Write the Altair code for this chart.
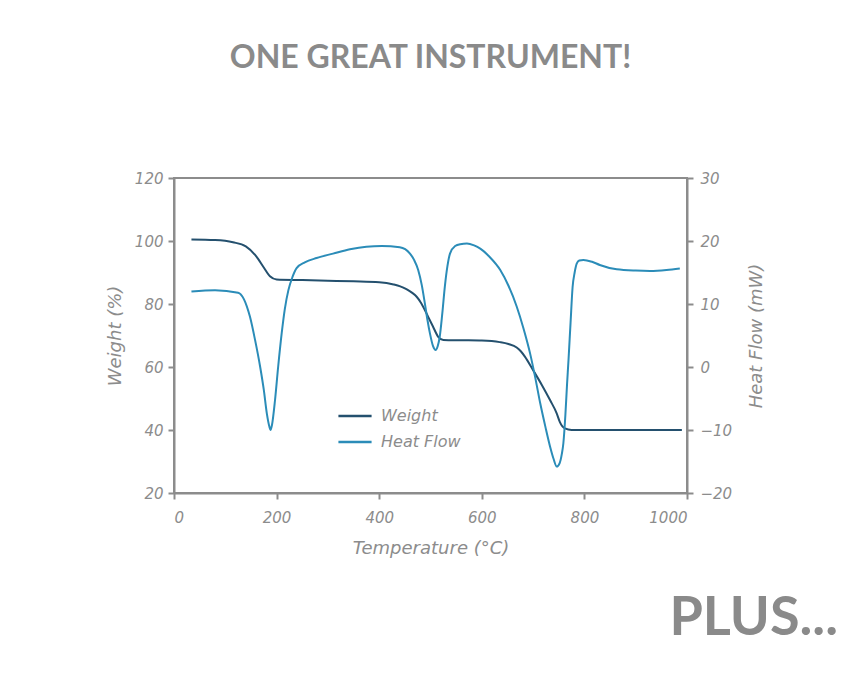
import altair as alt
import pandas as pd

# ---- data ----
w_temp = [34, 80, 115, 140, 160, 175, 187, 200, 250, 300, 350, 400, 428, 441, 453, 463, 473, 481, 489,
          497, 505, 515, 525, 560, 600, 635, 652, 668, 676, 684, 700, 717, 733, 746, 752, 762, 775, 850, 990]
w_val = [100.5, 100.3, 99.6, 98.3, 95.2, 91.6, 88.8, 87.8, 87.6, 87.4, 87.2, 86.9, 86.2, 85.6, 84.7, 83.7, 82.3, 80.5, 78.1,
         75.4, 72.8, 69.6, 68.6, 68.5, 68.4, 67.9, 67.3, 66.2, 65.0, 63.3, 59.0, 54.3, 49.5, 45.3, 42.6, 40.5, 40.0, 40.0, 40.0]

h_temp = [34, 80, 125, 148, 158, 168, 175, 181, 186, 188, 191, 197, 203, 210, 216, 223, 231, 239, 255,
          278, 310, 343, 375, 405, 440, 460, 468, 476, 483, 489, 494, 499, 505, 510, 514, 518, 523, 528,
          533, 538, 548, 558, 571, 585, 597, 615, 636, 652, 668, 681, 694, 704, 714, 724, 733, 740, 746,
          752, 756, 759, 763, 766, 769, 773, 777, 781, 785, 790, 798, 815, 830, 863, 900, 928, 960, 986]
h_val = [12.0, 12.2, 11.8, 8.0, 4.3, 0.0, -3.6, -7.4, -9.5, -10.0, -9.2, -5.2, 0.0, 5.4, 9.2, 12.2, 14.3, 15.7, 16.6,
         17.3, 18.0, 18.7, 19.1, 19.2, 19.0, 18.0, 17.0, 15.4, 13.0, 10.1, 7.5, 5.3, 3.3, 2.7, 3.3, 4.8, 8.5, 12.8,
         16.0, 18.0, 19.2, 19.5, 19.6, 19.3, 18.8, 17.5, 15.4, 12.9, 9.6, 6.2, 2.2, -1.6, -5.8, -9.5, -12.6, -14.6, -15.8,
         -15.2, -13.8, -12.1, -7.5, -3.0, 1.1, 7.0, 12.7, 15.0, 16.4, 16.9, 17.0, 16.7, 16.2, 15.5, 15.3, 15.25, 15.4, 15.65]

series_names = ["Weight", "Heat Flow"]
series_colors = ["#24506e", "#2b8cb8"]
x_ticks = [0, 200, 400, 600, 800, 1000]
w_ticks = [20, 40, 60, 80, 100, 120]
h_ticks = [-20, -10, 0, 10, 20, 30]

df_w = pd.DataFrame({"Temperature": w_temp, "Weight": w_val, "Series": "Weight"})
df_h = pd.DataFrame({"Temperature": h_temp, "HeatFlow": h_val, "Series": "Heat Flow"})
df_plus = pd.DataFrame({"t": ["PLUS..."]})

GRAY = "#8c8c8c"
FONT = "DejaVu Sans"

axis_common = dict(
    grid=False, domainColor=GRAY, domainWidth=2, tickColor=GRAY, tickWidth=2, tickSize=6,
    labelFont=FONT, labelFontSize=15, labelColor=GRAY, labelFontStyle="italic", labelFontWeight=200,
    titleFont=FONT, titleFontSize=18, titleColor=GRAY, titleFontStyle="italic", titleFontWeight=200,
)

color_scale = alt.Scale(domain=series_names, range=series_colors)
legend = alt.Legend(
    title=None, orient="none", legendX=163, legendY=220, symbolType="stroke",
    symbolSize=1100, symbolStrokeWidth=2.5, rowPadding=-7, labelOffset=8,
    labelFont=FONT, labelFontSize=16, labelColor=GRAY, labelFontStyle="italic", labelFontWeight=200,
)

x_enc = alt.X(
    "Temperature:Q",
    scale=alt.Scale(domain=[0, 1000], nice=False),
    axis=alt.Axis(values=x_ticks, format="d", title="Temperature (°C)", labelPadding=11,
                  titlePadding=14, **axis_common),
)

weight_line = alt.Chart(df_w).mark_line(interpolate="monotone", strokeWidth=2).encode(
    x=x_enc,
    y=alt.Y(
        "Weight:Q",
        scale=alt.Scale(domain=[20, 120], nice=False, zero=False),
        axis=alt.Axis(values=w_ticks, title="Weight (%)", orient="left", labelPadding=5,
                      titlePadding=10, **axis_common),
    ),
    color=alt.Color("Series:N", scale=color_scale, legend=legend),
)

heat_line = alt.Chart(df_h).mark_line(interpolate="monotone", strokeWidth=2).encode(
    x=x_enc,
    y=alt.Y(
        "HeatFlow:Q",
        scale=alt.Scale(domain=[-20, 30], nice=False, zero=False),
        axis=alt.Axis(values=h_ticks, title="Heat Flow (mW)", orient="right", titleAngle=270,
                      labelPadding=7, titlePadding=34, **axis_common),
    ),
    color=alt.Color("Series:N", scale=color_scale, legend=legend),
)

plus = alt.Chart(df_plus).mark_text(
    font="Lato", fontSize=54, fontWeight="bold", color="#8a8a8a", align="right", baseline="alphabetic"
).encode(x=alt.value(664), y=alt.value(457), text="t:N")

chart = (
    alt.layer(weight_line, heat_line, plus)
    .resolve_scale(y="independent")
    .properties(
        width=513,
        height=315,
        title=alt.TitleParams(
            text="ONE GREAT INSTRUMENT!", font="Lato", fontSize=32, fontWeight="bold",
            color="#8a8a8a", anchor="middle", offset=96,
        ),
        autosize=alt.AutoSizeParams(type="none"),
        padding={"left": 166, "top": 170, "right": 170, "bottom": 168},
        background="white",
    )
    .configure_view(stroke=GRAY, strokeWidth=2)
)

chart.save("out.html", embed_options={"renderer": "svg", "actions": False})
